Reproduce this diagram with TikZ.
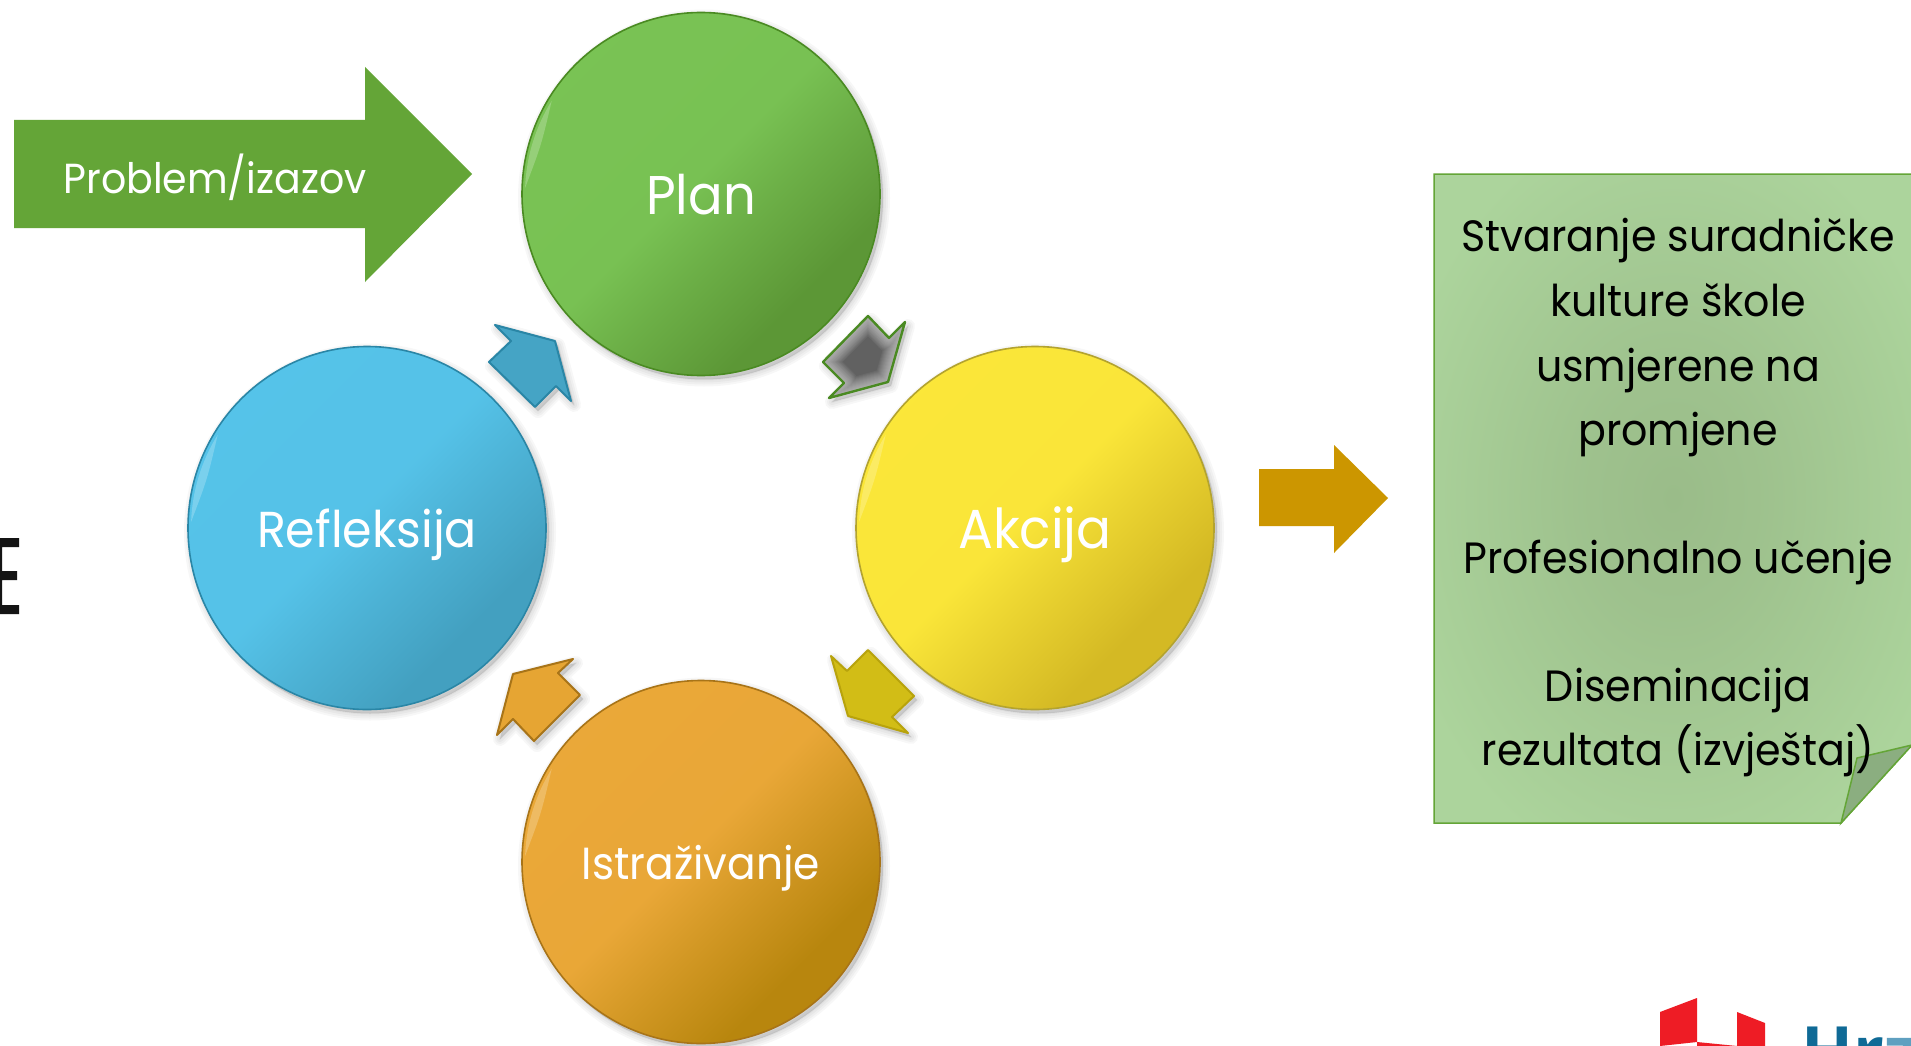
\documentclass[tikz,border=0pt]{standalone}
\usepackage{fontspec}
\setmainfont{Poppins}[FakeStretch=0.94]
\newfontfamily\logofont{Open Sans}[Scale=1]
\usetikzlibrary{shapes.geometric}
\definecolor{planA}{HTML}{7AC455}\definecolor{planB}{HTML}{5C9736}\definecolor{planL}{HTML}{4A8A22}
\definecolor{akcA}{HTML}{FCE83A}\definecolor{akcB}{HTML}{D4B924}\definecolor{akcL}{HTML}{B3A32F}
\definecolor{istA}{HTML}{ECA93A}\definecolor{istB}{HTML}{B8860E}\definecolor{istL}{HTML}{A87418}
\definecolor{refA}{HTML}{56C4EA}\definecolor{refB}{HTML}{43A0C0}\definecolor{refL}{HTML}{2A86A6}
\definecolor{bigG}{HTML}{64A537}\definecolor{gold}{HTML}{CC9600}
\definecolor{noteO}{HTML}{ACD49C}\definecolor{noteI}{HTML}{9ABC89}\definecolor{noteL}{HTML}{64A537}\definecolor{foldC}{HTML}{8BAE80}
\definecolor{logoR}{HTML}{EE1C25}\definecolor{logoB}{HTML}{0F6A96}\definecolor{logoC}{HTML}{5FA0C0}
\definecolor{arrowY}{HTML}{D2BD16}\definecolor{arrowYL}{HTML}{B8A30C}\definecolor{arrowO}{HTML}{E6A533}
\pgfdeclareradialshading{noteglow}{\pgfpoint{0bp}{0bp}}{color(0bp)=(noteI); color(10bp)=(noteI!75!noteO); color(30bp)=(noteO); color(50bp)=(noteO)}
\newcommand{\ringshading}[3]{\pgfdeclareverticalshading{#1}{100bp}{color(0bp)=(#3); color(30bp)=(#3); color(42bp)=(#3!50!#2); color(52bp)=(#2!94!#3); color(100bp)=(#2)}}
\ringshading{planshade}{planA}{planB}
\ringshading{akcshade}{akcA}{akcB}
\ringshading{istshade}{istA}{istB}
\ringshading{refshade}{refA}{refB}
\tikzset{
 ring/.style={ellipse,minimum width=358pt,minimum height=363pt,inner sep=0pt,line width=1.6pt,text=white,text depth=0pt},
 cyc/.style={line width=2pt,line join=round},
 softdark/.style={black,fill=black,opacity=.03,line join=round},
 notetext/.style={font=\fontsize{43.8}{43.8}\selectfont,text=black,anchor=base},
}
\newcommand{\softshape}[2]{%
 \foreach \w in {14,10,6,2}{\path[softdark,draw,line width=\w pt,shift={(#1)}] #2;}%
}
\begin{document}
\begin{tikzpicture}[x=1pt,y=-1pt]
\useasboundingbox (0,0) rectangle (1911,1046);
\fill[white] (0,0) rectangle (1911,1046);
% stray letter at the slide edge
\fill[black!92] (0,538) rectangle (19,547) (0,571) rectangle (17,580) (0,605) rectangle (19,614) (0,538) rectangle (2,614);
% shadows
\foreach \c in {(701,194),(1035,528),(367,528),(701,862)}{
 \foreach \w in {14,10,6,2}{\path[softdark,draw,line width=\w pt,shift={(3,4)}] \c ellipse[x radius=179,y radius=181.5];}
}
% circles
\node[ring,draw=planL,shading=planshade,shading angle=45,font=\fontsize{54.5}{54.5}\selectfont] (plan) at (701,194) {Plan};
\node[ring,draw=akcL,shading=akcshade,shading angle=45,font=\fontsize{55}{55}\selectfont] (akcija) at (1035,528) {Akcija};
\node[ring,draw=refL,shading=refshade,shading angle=45,font=\fontsize{50.5}{50.5}\selectfont] (refleksija) at (367,528) {Refleksija};
\node[ring,draw=istL,shading=istshade,shading angle=45,font=\fontsize{45}{45}\selectfont] (istrazivanje) at (701,862) {Istraživanje};
% rim highlights
\foreach \c in {(701,194),(1035,528),(367,528),(701,862)}{
 \fill[white,opacity=.22,shift={\c}] (182:176) arc[start angle=182,end angle=212,radius=176] .. controls (197:167) .. cycle;
}
% cycle arrows
\softshape{3,4}{(868,316)--(889,338)--(905,322)--(888,382)--(829,398)--(844,383)--(823,362)--cycle}
\softshape{3,4}{(831,656)--(847,671)--(868,650)--(914,696)--(892,717)--(908,733)--(848,716)--cycle}
\softshape{3,4}{(573,659)--(558,673)--(580,695)--(534,741)--(513,719)--(497,735)--(513,674)--cycle}
\softshape{3,4}{(495,325)--(555,341)--(571,401)--(556,386)--(535,407)--(489,362)--(511,341)--cycle}
% grey arrow: dark centre fading towards its edge
\begin{scope}
\clip (868,316)--(889,338)--(905,322)--(888,382)--(829,398)--(844,383)--(823,362)--cycle;
\fill[black!62] (820,310) rectangle (910,400);
\foreach \w in {4,6,...,28}{
 \draw[white,opacity=.05,line width=\w pt,line join=round] (868,316)--(889,338)--(905,322)--(888,382)--(829,398)--(844,383)--(823,362)--cycle;}
\end{scope}
\draw[cyc,draw=planL,line width=2.4pt] (868,316)--(889,338)--(905,322)--(888,382)--(829,398)--(844,383)--(823,362)--cycle;
\path[cyc,draw=arrowYL,fill=arrowY] (831,656)--(847,671)--(868,650)--(914,696)--(892,717)--(908,733)--(848,716)--cycle;
\path[cyc,draw=istL,fill=arrowO] (573,659)--(558,673)--(580,695)--(534,741)--(513,719)--(497,735)--(513,674)--cycle;
\path[cyc,draw=refL,fill=refB!88!refA] (495,325)--(555,341)--(571,401)--(556,386)--(535,407)--(489,362)--(511,341)--cycle;
% big arrows
\fill[bigG] (14,120)--(365,120)--(365,67)--(472,174)--(365,282)--(365,228)--(14,228)--cycle;
\node[font=\fontsize{42}{42}\selectfont,text=white] (problem) at (215,177) {Problem/izazov};
\fill[gold] (1259,469)--(1334,469)--(1334,445)--(1388,498)--(1334,553)--(1334,526)--(1259,526)--cycle;
% note
\path[draw=noteL,line width=1.5pt,shading=noteglow] (1434,174)--(1912,174)--(1912,745)--(1841,823)--(1434,823)--cycle;
\path[draw=noteL,line width=1.5pt,fill=foldC] (1841,823)--(1857,758)--(1912,745)--cycle;
\node[notetext] (l1) at (1678,251) {Stvaranje suradničke};
\node[notetext] (l2) at (1678,316) {kulture škole};
\node[notetext] (l3) at (1678,381) {usmjerene na};
\node[notetext] (l4) at (1678,445) {promjene};
\node[notetext] (l5) at (1678,573) {Profesionalno učenje};
\node[notetext] (l6) at (1678,701) {Diseminacija};
\node[notetext] (l7) at (1678,765) {rezultata (izvještaj)};
% logo
\begin{scope}
\clip (0,0) rectangle (1911,1046);
\fill[logoR] (1660,1012)--(1697,998)--(1697,1042)--(1660,1046)--cycle;
\fill[logoR] (1737,1012)--(1765,1023)--(1765,1046)--(1737,1046)--cycle;
\fill[logoR] (1697,1042)--(1737,1046)--(1697,1046)--cycle;
\node[anchor=base west,inner sep=0pt,font=\logofont\bfseries\fontsize{68}{68}\selectfont,text=logoB] (logo) at (1801,1075) {Hr\textcolor{logoC}{z}};
\end{scope}
\end{tikzpicture}
\end{document}
